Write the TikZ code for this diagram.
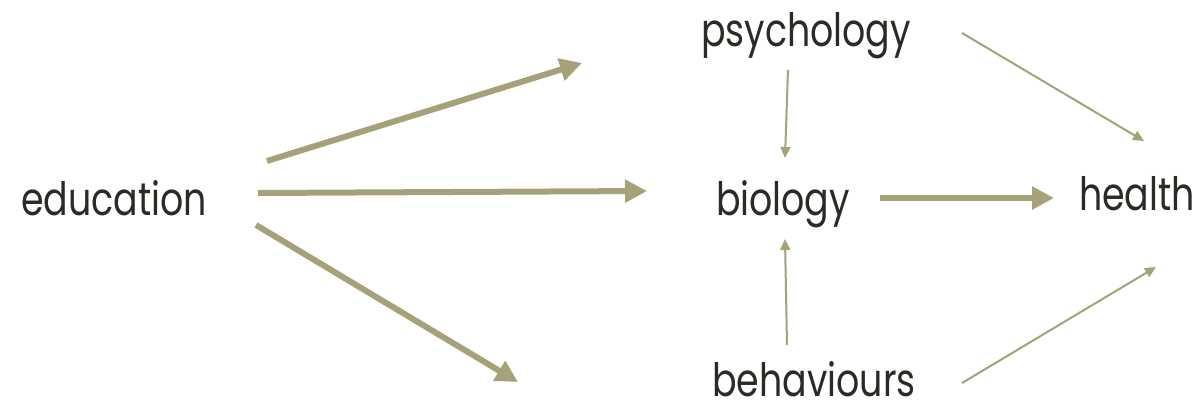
\documentclass[tikz,border=0pt]{standalone}
\usepackage{fontspec}
\setmainfont{Poppins}[FakeStretch=0.79]
\usetikzlibrary{arrows.meta}
\definecolor{arrowc}{HTML}{A5A27A}
\definecolor{textc}{HTML}{2B2A24}
\begin{document}
\begin{tikzpicture}[x=1pt,y=-1pt,
  lbl/.style={text=textc, font=\fontsize{46}{54}\selectfont, inner sep=0pt, anchor=base},
  bigarrow/.style={draw=arrowc, line width=6pt, -{Triangle[length=22pt,width=22pt]}},
  smallarrow/.style={draw=arrowc, line width=2pt, -{Triangle[length=11pt,width=10pt]}}]
  \useasboundingbox (0,0) rectangle (1202,404);

  % labels
  \node[lbl] (edu) at (114,215) {education};
  \node[lbl] (psy) at (806,47) {psychology};
  \node[lbl] (bio) at (783,215) {biology};
  \node[lbl] (hea) at (1137,210) {health};
  \node[lbl, text depth=0pt] (beh) at (814,396) {behaviours};

  % arrow end points
  \coordinate (eA) at (267,161);
  \coordinate (eB) at (258,193);
  \coordinate (eC) at (256,225);
  \coordinate (tA) at (582,63);
  \coordinate (tB) at (647,191);
  \coordinate (tC) at (518,382);
  \coordinate (pS) at (788,70);
  \coordinate (pT) at (785,158);
  \coordinate (bS) at (787,345);
  \coordinate (bT) at (785,239);
  \coordinate (bioS) at (880,198);
  \coordinate (bioT) at (1054,198);
  \coordinate (psyS) at (962,33);
  \coordinate (heaT1) at (1144,141);
  \coordinate (behS) at (962,383);
  \coordinate (heaT2) at (1156,267);

  % education paths
  \draw[bigarrow] (eA) -- (tA);
  \draw[bigarrow] (eB) -- (tB);
  \draw[bigarrow] (eC) -- (tC);
  % into biology
  \draw[smallarrow] (pS) -- (pT);
  \draw[smallarrow] (bS) -- (bT);
  % into health
  \draw[bigarrow] (bioS) -- (bioT);
  \draw[smallarrow] (psyS) -- (heaT1);
  \draw[smallarrow] (behS) -- (heaT2);
\end{tikzpicture}
\end{document}
